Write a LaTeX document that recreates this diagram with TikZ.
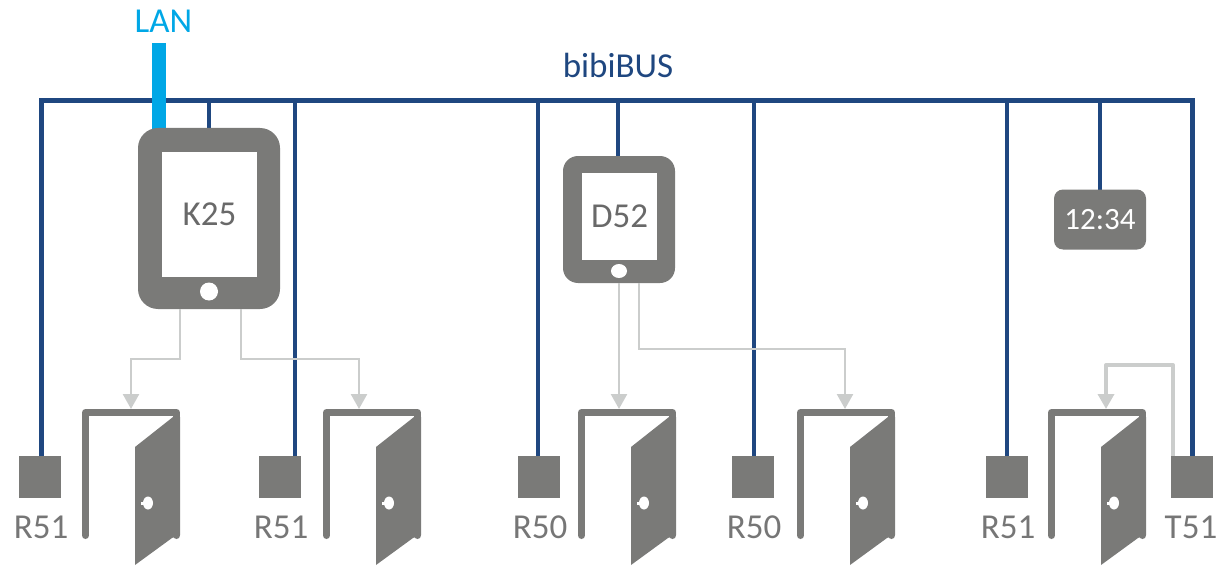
\documentclass[tikz,border=0pt]{standalone}
\usepackage{fontspec}
\setmainfont{Carlito}
\usetikzlibrary{arrows.meta, shapes.geometric}
\definecolor{busblue}{RGB}{31, 71, 128}
\definecolor{lanblue}{RGB}{0, 167, 230}
\definecolor{devgray}{RGB}{122, 122, 120}
\definecolor{sigray}{RGB}{203, 205, 204}
\definecolor{txtgray}{RGB}{118, 118, 118}
\definecolor{scrgray}{RGB}{105, 105, 105}
\tikzstyle{bus} = [line width=4pt, draw=busblue]
\tikzstyle{signal} = [line width=2.5pt, draw=sigray, -{Triangle[width=16pt,length=15pt]}]
\tikzstyle{reader} = [rectangle, fill=devgray, minimum width=42pt, minimum height=42pt, inner sep=0pt]
\tikzstyle{tablet} = [rectangle, fill=devgray, inner sep=0pt]
\tikzstyle{screen} = [rectangle, fill=white, text=scrgray, inner sep=0pt, font=\fontsize{35}{35}\selectfont]
\tikzstyle{devlabel} = [text=txtgray, font=\fontsize{35}{35}\selectfont, inner sep=0pt]
\newcommand{\drawdoor}[1]{
    \begin{scope}[shift={(#1,409)}]
        \draw [line width=7pt, draw=devgray, line cap=round, line join=round] (3.5,126.5) -- (3.5,3.5) -- (94.5,3.5) -- (94.5,126.5);
        \fill [devgray] (53,38) -- (91,8) -- (98,8) -- (98,126) -- (90,129) -- (53,156) -- cycle;
        \fill [white] (66,94) ellipse (5pt and 6.5pt);
        \fill [white] (58.5,92.5) rectangle (66,95.5);
    \end{scope}
}
\begin{document}
\begin{tikzpicture}[x=1pt,y=-1pt]
        \useasboundingbox (0,0) rectangle (1223,567);

        % Bus and LAN
        \coordinate (busleft) at (41,101);
        \coordinate (busright) at (1192.5,101);
        \coordinate (lantop) at (159,43);
        \node (buslabel) at (618,65) [devlabel, text=busblue] {bibiBUS};
        \node (lanlabel) at (163.5,21) [devlabel, text=lanblue] {LAN};

        % Readers
        \node (ra) at (40,477) [reader] {};
        \node (rb) at (280,477) [reader] {};
        \node (rc) at (539,477) [reader] {};
        \node (rd) at (753,477) [reader] {};
        \node (re) at (1007,477) [reader] {};
        \node (tf) at (1191.5,477) [reader] {};
        \node (ralabel) at (41,527) [devlabel] {R51};
        \node (rblabel) at (281,527) [devlabel] {R51};
        \node (rclabel) at (540,527) [devlabel] {R50};
        \node (rdlabel) at (754,527) [devlabel] {R50};
        \node (relabel) at (1008,527) [devlabel] {R51};
        \node (tflabel) at (1191,527) [devlabel] {T51};

        % Bus lines
        \coordinate (rbdrop) at (295,456);
        \coordinate (kdrop) at (209,128);
        \coordinate (ddrop) at (618,156);
        \coordinate (cdrop) at (1100,190);
        \coordinate (rcdrop) at (538,456);
        \coordinate (rddrop) at (754,456);
        \coordinate (redrop) at (1007,456);
        \coordinate (tfdrop) at (1192.5,456);
        \draw [bus, line width=5pt, line join=miter] (41,456) -- (busleft) -- (busright) -- (tfdrop);
        \foreach \drop in {rbdrop,kdrop,ddrop,cdrop,rcdrop,rddrop,redrop}
            \draw [bus] (\drop) -- (\drop |- busleft);

        % K25 block
        \draw [line width=14pt, draw=lanblue] (lantop) -- (159,130);
        \node (kpanel) at (209,218.5) [tablet, rounded corners=20pt, minimum width=142pt, minimum height=181pt] {};
        \node (kscreen) at (209.5,214.5) [screen, minimum width=95pt, minimum height=125pt, text depth=0pt, yshift=0.5pt] {K25};
        \node (kbutton) at (209,291.5) [circle, fill=white, minimum size=18pt, inner sep=0pt] {};

        % D52 block
        \node (dpanel) at (619,219.5) [tablet, rounded corners=15pt, minimum width=112pt, minimum height=127pt] {};
        \node (dscreen) at (619.5,216.5) [screen, minimum width=75pt, minimum height=87pt] {D52};
        \node (dbutton) at (619,271) [ellipse, fill=white, minimum width=16pt, minimum height=14pt, inner sep=0pt] {};

        % Clock
        \node (clock) at (1100,219.5) [tablet, rounded corners=9pt, minimum width=92pt, minimum height=60pt, text=white, font=\fontsize{31}{31}\selectfont] {12:34};

        % Doors
        \drawdoor{82}
        \drawdoor{323}
        \drawdoor{578}
        \drawdoor{797}
        \drawdoor{1048}
        \coordinate (doora) at (131,409);
        \coordinate (doorb) at (359,409);
        \coordinate (doorc) at (619,409);
        \coordinate (doord) at (845,409);
        \coordinate (doore) at (1106,409);

        % Signal lines
        \draw [signal] ([xshift=-29pt]kpanel.south) -- ++(0,50) -| (doora);
        \draw [signal] ([xshift=32pt]kpanel.south) -- ++(0,50) -| (doorb);
        \draw [signal] (dpanel.south) -- (doorc);
        \draw [signal] ([xshift=20pt]dpanel.south) -- ++(0,66) -| (doord);
        \draw [signal, line width=3.5pt, line join=round] ([xshift=-18.5pt]tf.north) -- ++(0,-91) -| (doore);
    \end{tikzpicture}
\end{document}
